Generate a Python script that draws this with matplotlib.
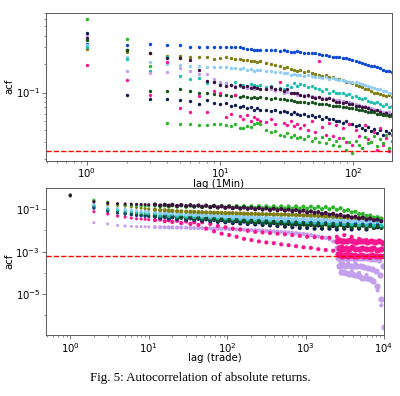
import matplotlib
matplotlib.use('Agg')
import matplotlib.pyplot as plt
from matplotlib.ticker import FixedLocator, LogFormatterSciNotation, NullFormatter

# ---- top panel: 1-minute returns, lags 1..194 ----
lags_min = [1, 2, 3, 4, 5, 6, 7, 8, 9, 10,
            11, 12, 13, 14, 15, 16, 17, 18, 19, 20,
            22, 24, 26, 28, 30, 32, 34, 36, 38, 40,
            43, 46, 49, 52, 55, 58, 62, 66, 70, 74,
            78, 83, 88, 93, 98, 104, 110, 116, 122, 129,
            136, 143, 151, 159, 167, 176, 185, 194]

min_blue = [0.33, 0.32, 0.33, 0.315, 0.315, 0.305, 0.30, 0.305, 0.30, 0.30,
            0.305, 0.30, 0.30, 0.30, 0.295, 0.29, 0.29, 0.285, 0.28, 0.285,
            0.28, 0.285, 0.28, 0.275, 0.28, 0.275, 0.27, 0.27, 0.275, 0.27,
            0.265, 0.265, 0.26, 0.26, 0.255, 0.25, 0.25, 0.245, 0.24, 0.24,
            0.235, 0.23, 0.23, 0.225, 0.22, 0.215, 0.21, 0.205, 0.20, 0.195,
            0.19, 0.19, 0.185, 0.18, 0.175, 0.17, 0.17, 0.165]
min_olive = [0.29, 0.27, 0.26, 0.245, 0.245, 0.235, 0.235, 0.235, 0.228, 0.23,
             0.235, 0.23, 0.225, 0.225, 0.22, 0.22, 0.215, 0.215, 0.21, 0.215,
             0.205, 0.20, 0.195, 0.19, 0.18, 0.185, 0.178, 0.175, 0.17, 0.172,
             0.165, 0.168, 0.16, 0.158, 0.155, 0.15, 0.152, 0.145, 0.147, 0.14,
             0.138, 0.135, 0.13, 0.128, 0.125, 0.12, 0.118, 0.115, 0.11, 0.108,
             0.105, 0.10, 0.10, 0.097, 0.095, 0.092, 0.095, 0.09]
min_lightblue = [0.32, 0.235, 0.21, 0.20, 0.195, 0.19, 0.19, 0.185, 0.185, 0.187,
                 0.185, 0.18, 0.182, 0.178, 0.18, 0.175, 0.178, 0.17, 0.175, 0.172,
                 0.17, 0.168, 0.165, 0.165, 0.16, 0.162, 0.155, 0.158, 0.152, 0.155,
                 0.15, 0.152, 0.148, 0.145, 0.147, 0.142, 0.145, 0.14, 0.142, 0.138,
                 0.137, 0.135, 0.133, 0.13, 0.13, 0.128, 0.125, 0.122, 0.12, 0.118,
                 0.115, 0.113, 0.11, 0.108, 0.105, 0.103, 0.10, 0.098]
min_teal = [0.30, 0.228, 0.17, 0.235, 0.15, 0.14, 0.142, 0.125, 0.13, 0.122,
            0.125, 0.12, 0.13, 0.118, 0.12, 0.115, 0.122, 0.12, 0.118, 0.12,
            0.115, 0.118, 0.11, 0.112, 0.108, 0.12, 0.115, 0.125, 0.118, 0.122,
            0.12, 0.115, 0.118, 0.112, 0.11, 0.105, 0.108, 0.10, 0.104, 0.10,
            0.098, 0.10, 0.095, 0.097, 0.09, 0.092, 0.088, 0.085, 0.088, 0.082,
            0.08, 0.078, 0.08, 0.075, 0.072, 0.075, 0.07, 0.072]
min_lavender = [0.41, 0.169, 0.162, 0.165, 0.183, 0.17, 0.159, 0.159, 0.14, 0.13,
                0.125, 0.12, 0.118, 0.12, 0.115, 0.112, 0.115, 0.11, 0.112, 0.11,
                0.108, 0.11, 0.105, 0.106, 0.10, 0.102, 0.098, 0.10, 0.095, 0.094,
                0.095, 0.092, 0.093, 0.09, 0.09, 0.088, 0.087, 0.088, 0.085, 0.084,
                0.083, 0.082, 0.08, 0.079, 0.077, 0.076, 0.074, 0.073, 0.072, 0.07,
                0.068, 0.067, 0.066, 0.065, 0.063, 0.062, 0.062, 0.06]
min_purple = [0.38, 0.282, 0.26, 0.23, 0.23, 0.22, 0.175, 0.133, 0.13, 0.12,
              0.118, 0.12, 0.115, 0.12, 0.115, 0.118, 0.112, 0.115, 0.113, 0.11,
              0.11, 0.115, 0.108, 0.11, 0.105, 0.108, 0.10, 0.098, 0.10, 0.095,
              0.093, 0.095, 0.09, 0.088, 0.09, 0.086, 0.085, 0.087, 0.083, 0.08,
              0.08, 0.078, 0.08, 0.076, 0.075, 0.073, 0.072, 0.07, 0.07, 0.068,
              0.066, 0.064, 0.065, 0.062, 0.06, 0.061, 0.058, 0.06]
min_darkgreen = [0.36, 0.28, 0.105, 0.105, 0.108, 0.104, 0.098, 0.10, 0.096, 0.094,
                 0.095, 0.092, 0.094, 0.09, 0.092, 0.09, 0.088, 0.09, 0.087, 0.09,
                 0.088, 0.086, 0.087, 0.085, 0.086, 0.083, 0.084, 0.082, 0.08, 0.08,
                 0.08, 0.078, 0.079, 0.077, 0.076, 0.075, 0.076, 0.074, 0.073, 0.072,
                 0.072, 0.07, 0.07, 0.069, 0.068, 0.067, 0.066, 0.065, 0.064, 0.063,
                 0.062, 0.062, 0.06, 0.06, 0.058, 0.058, 0.057, 0.056]
min_navy = [0.425, 0.095, 0.085, 0.086, 0.084, 0.081, 0.076, 0.083, 0.078, 0.075,
            0.078, 0.072, 0.074, 0.07, 0.072, 0.068, 0.07, 0.066, 0.068, 0.065,
            0.066, 0.064, 0.066, 0.062, 0.064, 0.062, 0.06, 0.063, 0.06, 0.058,
            0.06, 0.057, 0.058, 0.055, 0.056, 0.053, 0.055, 0.052, 0.053, 0.05,
            0.05, 0.048, 0.05, 0.046, 0.047, 0.044, 0.045, 0.042, 0.04, 0.043,
            0.039, 0.041, 0.037, 0.04, 0.036, 0.039, 0.037, 0.04]
min_pink = [0.197, 0.137, 0.094, 0.21, 0.069, 0.062, 0.093, 0.063, 0.104, 0.099,
            0.055, 0.06, 0.095, 0.057, 0.053, 0.058, 0.05, 0.055, 0.052, 0.05,
            0.049, 0.052, 0.047, 0.13, 0.048, 0.045, 0.05, 0.044, 0.047, 0.042,
            0.045, 0.04, 0.05, 0.038, 0.215, 0.043, 0.036, 0.048, 0.035, 0.045,
            0.033, 0.042, 0.03, 0.047, 0.028, 0.04, 0.035, 0.026, 0.045, 0.032,
            0.03, 0.038, 0.025, 0.042, 0.028, 0.033, 0.024, 0.036]
min_green = [0.60, 0.366, 0.19, 0.0475, 0.047, 0.047, 0.045, 0.045, 0.046, 0.046,
             0.045, 0.044, 0.047, 0.042, 0.042, 0.044, 0.043, 0.046, 0.048, 0.046,
             0.04, 0.038, 0.039, 0.036, 0.035, 0.037, 0.034, 0.036, 0.033, 0.034,
             0.032, 0.035, 0.031, 0.033, 0.03, 0.034, 0.029, 0.032, 0.028, 0.031,
             0.027, 0.033, 0.025, 0.03, 0.023, 0.031, 0.028, 0.026, 0.034, 0.029,
             0.03, 0.035, 0.027, 0.032, 0.029, 0.036, 0.026, 0.031]
conf_min = 0.0243

# ---- bottom panel: trade returns, lags 1..~10^4 ----
lags_trade = [1, 2, 3, 4, 5, 6, 7, 8, 9, 10,
              12, 14, 16, 18, 20, 23, 26, 30, 34, 38,
              43, 48, 54, 61, 68, 76, 85, 95, 106, 118,
              132, 147, 164, 183, 204, 228, 254, 283, 316, 352,
              393, 438, 489, 545, 608, 678, 756, 843, 940, 1048,
              1169, 1303, 1453, 1620, 1806, 2014, 2246, 2504, 2792, 3113,
              3471, 3870, 4315, 4811, 5365, 5982, 6670, 7437, 8292, 9246]

tr_green = [0.46, 0.26, 0.21, 0.17, 0.155, 0.15, 0.145, 0.145, 0.14, 0.14,
            0.15, 0.135, 0.148, 0.132, 0.15, 0.13, 0.148, 0.128, 0.146, 0.127,
            0.145, 0.125, 0.143, 0.122, 0.142, 0.12, 0.14, 0.118, 0.14, 0.117,
            0.138, 0.115, 0.138, 0.113, 0.136, 0.112, 0.136, 0.11, 0.135, 0.11,
            0.135, 0.108, 0.135, 0.107, 0.133, 0.106, 0.133, 0.105, 0.13, 0.105,
            0.13, 0.104, 0.128, 0.10, 0.125, 0.098, 0.12, 0.092, 0.11, 0.082,
            0.09, 0.07, 0.075, 0.058, 0.06, 0.048, 0.05, 0.04, 0.042, 0.034]
tr_purple = [0.44, 0.22, 0.19, 0.18, 0.175, 0.17, 0.168, 0.165, 0.163, 0.16,
             0.165, 0.148, 0.16, 0.145, 0.158, 0.14, 0.155, 0.138, 0.152, 0.135,
             0.148, 0.128, 0.145, 0.125, 0.14, 0.12, 0.135, 0.115, 0.13, 0.11,
             0.125, 0.105, 0.12, 0.102, 0.115, 0.098, 0.112, 0.095, 0.108, 0.09,
             0.104, 0.088, 0.10, 0.085, 0.095, 0.08, 0.09, 0.075, 0.085, 0.07,
             0.078, 0.066, 0.072, 0.06, 0.066, 0.055, 0.06, 0.05, 0.054, 0.045,
             0.048, 0.04, 0.044, 0.036, 0.04, 0.032, 0.036, 0.03, 0.032, 0.027]
tr_olive = [0.45, 0.23, 0.17, 0.15, 0.14, 0.13, 0.12, 0.112, 0.105, 0.10,
            0.095, 0.09, 0.088, 0.085, 0.082, 0.08, 0.078, 0.076, 0.075, 0.074,
            0.072, 0.071, 0.07, 0.069, 0.068, 0.067, 0.066, 0.065, 0.065, 0.064,
            0.063, 0.062, 0.061, 0.06, 0.06, 0.059, 0.058, 0.058, 0.057, 0.057,
            0.056, 0.056, 0.055, 0.055, 0.054, 0.054, 0.053, 0.052, 0.051, 0.05,
            0.05, 0.049, 0.048, 0.047, 0.046, 0.045, 0.044, 0.043, 0.042, 0.041,
            0.04, 0.04, 0.039, 0.039, 0.038, 0.038, 0.037, 0.037, 0.036, 0.036]
tr_lightblue = [0.44, 0.17, 0.13, 0.11, 0.10, 0.092, 0.086, 0.08, 0.078, 0.075,
                0.075, 0.066, 0.07, 0.062, 0.066, 0.058, 0.063, 0.055, 0.06, 0.053,
                0.058, 0.05, 0.055, 0.048, 0.053, 0.046, 0.05, 0.044, 0.048, 0.042,
                0.047, 0.04, 0.045, 0.039, 0.044, 0.038, 0.043, 0.036, 0.042, 0.035,
                0.041, 0.034, 0.04, 0.033, 0.039, 0.032, 0.038, 0.031, 0.037, 0.03,
                0.036, 0.03, 0.035, 0.029, 0.034, 0.028, 0.033, 0.027, 0.032, 0.026,
                0.031, 0.026, 0.03, 0.025, 0.03, 0.025, 0.029, 0.024, 0.029, 0.024]
tr_teal = [0.43, 0.15, 0.10, 0.09, 0.08, 0.075, 0.07, 0.066, 0.063, 0.06,
           0.064, 0.05, 0.062, 0.048, 0.06, 0.046, 0.058, 0.044, 0.056, 0.043,
           0.055, 0.041, 0.053, 0.04, 0.051, 0.038, 0.05, 0.036, 0.048, 0.035,
           0.046, 0.034, 0.045, 0.032, 0.044, 0.031, 0.042, 0.03, 0.041, 0.029,
           0.04, 0.028, 0.039, 0.027, 0.038, 0.026, 0.037, 0.025, 0.036, 0.024,
           0.035, 0.023, 0.034, 0.022, 0.033, 0.021, 0.032, 0.02, 0.031, 0.02,
           0.03, 0.019, 0.029, 0.018, 0.028, 0.018, 0.027, 0.017, 0.026, 0.017]
tr_darkgreen = [0.42, 0.14, 0.09, 0.075, 0.068, 0.062, 0.058, 0.055, 0.052, 0.05,
                0.05, 0.044, 0.048, 0.042, 0.046, 0.039, 0.043, 0.037, 0.041, 0.035,
                0.039, 0.033, 0.037, 0.031, 0.035, 0.029, 0.034, 0.028, 0.032, 0.027,
                0.031, 0.025, 0.03, 0.024, 0.028, 0.023, 0.027, 0.022, 0.026, 0.021,
                0.025, 0.02, 0.024, 0.019, 0.023, 0.018, 0.022, 0.017, 0.021, 0.017,
                0.02, 0.016, 0.02, 0.016, 0.019, 0.015, 0.019, 0.015, 0.018, 0.014,
                0.018, 0.014, 0.017, 0.014, 0.017, 0.013, 0.016, 0.013, 0.016, 0.013]
tr_blue = [0.43, 0.12, 0.085, 0.07, 0.062, 0.058, 0.054, 0.051, 0.049, 0.047,
           0.048, 0.041, 0.046, 0.039, 0.044, 0.037, 0.042, 0.035, 0.04, 0.034,
           0.038, 0.032, 0.036, 0.03, 0.034, 0.029, 0.033, 0.027, 0.032, 0.026,
           0.031, 0.025, 0.03, 0.024, 0.029, 0.023, 0.028, 0.022, 0.027, 0.021,
           0.026, 0.021, 0.025, 0.02, 0.025, 0.019, 0.024, 0.019, 0.023, 0.018,
           0.023, 0.018, 0.022, 0.017, 0.022, 0.017, 0.021, 0.016, 0.021, 0.016,
           0.02, 0.016, 0.02, 0.015, 0.019, 0.015, 0.019, 0.015, 0.018, 0.014]
tr_navy = [0.44, 0.11, 0.078, 0.065, 0.058, 0.054, 0.05, 0.048, 0.046, 0.045,
           0.045, 0.038, 0.043, 0.036, 0.041, 0.034, 0.039, 0.032, 0.037, 0.031,
           0.035, 0.028, 0.033, 0.027, 0.031, 0.025, 0.03, 0.024, 0.028, 0.022,
           0.027, 0.021, 0.026, 0.02, 0.025, 0.019, 0.024, 0.018, 0.023, 0.017,
           0.022, 0.016, 0.021, 0.015, 0.02, 0.014, 0.019, 0.013, 0.019, 0.013,
           0.018, 0.012, 0.017, 0.012, 0.035, 0.012, 0.016, 0.011, 0.03, 0.012,
           0.016, 0.011, 0.038, 0.012, 0.017, 0.011, 0.03, 0.013, 0.014, 0.015]
tr_pink = [0.42, 0.075, 0.058, 0.047, 0.042, 0.038, 0.035, 0.034, 0.033, 0.032,
           0.03, 0.032, 0.027, 0.03, 0.025, 0.028, 0.022, 0.026, 0.02, 0.024,
           0.018, 0.024, 0.012, 0.02, 0.009, 0.016, 0.007, 0.014, 0.006, 0.012,
           0.005, 0.011, 0.004, 0.0095, 0.0035, 0.0085, 0.003, 0.008, 0.0027, 0.0075,
           0.0025, 0.007, 0.0022, 0.0065, 0.002, 0.006, 0.0018, 0.0055, 0.0016, 0.005,
           0.0015, 0.0048, 0.0013, 0.0045, 0.0012, 0.0045, 0.0011, 0.005, 0.0009, 0.006,
           0.0009, 0.005, 0.0007, 0.004, 0.0006, 0.0035, 0.0005, 0.003, 0.0006, 0.0028]
tr_lavender = [0.48, 0.023, 0.02, 0.017, 0.016, 0.0155, 0.015, 0.015, 0.0148, 0.0145,
               0.0143, 0.014, 0.014, 0.0138, 0.0138, 0.0135, 0.0135, 0.0133, 0.013, 0.013,
               0.0128, 0.0128, 0.0125, 0.0125, 0.0122, 0.012, 0.012, 0.0118, 0.0115, 0.0115,
               0.0112, 0.011, 0.0108, 0.0106, 0.0104, 0.0102, 0.01, 0.0098, 0.0095, 0.0093,
               0.009, 0.0088, 0.0085, 0.0082, 0.008, 0.0077, 0.0074, 0.007, 0.0067, 0.0064,
               0.006, 0.0056, 0.0052, 0.0048, 0.0044, 0.0038, 0.003, 0.0015, 0.0003, 0.00025,
               0.00035, 0.00012, 0.0003, 0.0001, 0.0002, 8e-05, 0.00015, 4e-05, 1.5e-05, 3e-06]

# extra readings in the dense tail (lag > 2500) of the two lowest series
tail_lags = [2550, 2600, 2650, 2700, 2760, 2820, 2880, 2950, 3020, 3100, 3180,
             3270, 3360, 3460, 3560, 3670, 3780, 3900, 4020, 4150, 4290, 4430,
             4580, 4740, 4900, 5070, 5250, 5440, 5640, 5850, 6070, 6300, 6540,
             6790, 7050, 7330, 7620, 7920, 8240, 8570, 8920, 9280, 9650, 9950]
tail_lav = [1.5e-3, 5e-4, 2e-4, 5e-4, 2.2e-4, 1.1e-4, 5e-4, 2.5e-4, 1.1e-4, 5e-4, 2.2e-4,
            1e-4, 5e-4, 2.3e-4, 9e-5, 5e-4, 2e-4, 9e-5, 5e-4, 2.2e-4, 8e-5, 5e-4,
            2e-4, 7e-5, 5e-4, 2e-4, 6e-5, 5e-4, 1.8e-4, 5.5e-5, 5e-4, 1.7e-4, 5e-5,
            4.5e-4, 1.5e-4, 4e-5, 4.5e-4, 1.2e-4, 2.5e-5, 4e-4, 8e-5, 6e-6, 2e-4, 3e-7]
tail_pink = [0.003, 0.0008, 0.0015, 0.0035, 0.0007, 0.0016, 0.003, 0.0006, 0.0014, 0.0032, 0.0007,
             0.0015, 0.003, 0.0006, 0.0013, 0.0035, 0.0007, 0.0016, 0.003, 0.0006, 0.0014, 0.0028,
             0.0006, 0.0013, 0.003, 0.0007, 0.0015, 0.0032, 0.0006, 0.0013, 0.0028, 0.0006, 0.0014,
             0.003, 0.0007, 0.0015, 0.0027, 0.0006, 0.0012, 0.003, 0.0006, 0.0013, 0.0025, 0.0006]
conf_trade = 6e-4

col = {'blue': '#0a47d9', 'olive': '#7d7d12', 'lightblue': '#8fcdf7',
       'teal': '#1fbfb0', 'lavender': '#c4a0ec', 'purple': '#3d0f3f',
       'darkgreen': '#154f1c', 'navy': '#0e1b4f', 'pink': '#f7168f',
       'green': '#2db52a'}

top_series = [('blue', min_blue), ('olive', min_olive), ('lightblue', min_lightblue),
              ('teal', min_teal), ('lavender', min_lavender), ('purple', min_purple),
              ('darkgreen', min_darkgreen), ('navy', min_navy), ('pink', min_pink),
              ('green', min_green)]
bot_series = [('lavender', tr_lavender), ('pink', tr_pink), ('navy', tr_navy),
              ('blue', tr_blue), ('darkgreen', tr_darkgreen), ('teal', tr_teal),
              ('lightblue', tr_lightblue), ('olive', tr_olive), ('green', tr_green),
              ('purple', tr_purple)]

fs = 7.3
plt.rcParams['font.size'] = fs
plt.rcParams['axes.linewidth'] = 0.7
plt.rcParams['axes.edgecolor'] = '0.35'
for a in ('x', 'y'):
    plt.rcParams[a + 'tick.major.size'] = 2.6
    plt.rcParams[a + 'tick.minor.size'] = 1.5
    plt.rcParams[a + 'tick.major.width'] = 0.6
    plt.rcParams[a + 'tick.minor.width'] = 0.5
    plt.rcParams[a + 'tick.major.pad'] = 1.5
    plt.rcParams[a + 'tick.color'] = '0.35'
    plt.rcParams[a + 'tick.labelcolor'] = 'black'

fig = plt.figure(figsize=(4.0, 3.96), dpi=100)

ax1 = fig.add_axes([0.115, 0.594, 0.865, 0.374])
for name, vals in top_series:
    ax1.scatter(lags_min, vals, s=6, color=col[name], linewidths=0)
ax1.axhline(conf_min, color='red', ls='--', lw=1.0, zorder=3)
ax1.set_xscale('log')
ax1.set_yscale('log')
ax1.set_xlim(0.495, 195)
ax1.set_ylim(0.019, 0.70)
ax1.set_xlabel('lag (1Min)', labelpad=-1)
ax1.set_ylabel('acf', labelpad=1)

ax2 = fig.add_axes([0.115, 0.154, 0.845, 0.371])
ax2.patch.set_alpha(0)
sizes = [5 if l <= 10 else 9 for l in lags_trade]
ax2.scatter(tail_lags, tail_lav, s=20, color=col['lavender'], linewidths=0)
for name, vals in bot_series:
    ax2.scatter(lags_trade, vals, s=sizes, color=col[name], linewidths=0)
    if name == 'pink':
        ax2.scatter(tail_lags, tail_pink, s=20, color=col['pink'], linewidths=0)
ax2.axhline(conf_trade, color='red', ls='--', lw=1.0, zorder=3)
ax2.set_xscale('log')
ax2.set_yscale('log')
ax2.set_xlim(0.49, 1e4)
ax2.set_ylim(1.2e-7, 0.97)
ax2.yaxis.set_major_locator(FixedLocator([1e-7, 1e-5, 1e-3, 1e-1]))
ax2.yaxis.set_major_formatter(LogFormatterSciNotation())
ax2.yaxis.set_minor_locator(FixedLocator([1e-6, 1e-4, 1e-2]))
ax2.yaxis.set_minor_formatter(NullFormatter())
ax2.set_xlabel('lag (trade)', labelpad=-1)
ax2.set_ylabel('acf', labelpad=1)

fig.text(0.5, 0.046, 'Fig. 5: Autocorrelation of absolute returns.',
         ha='center', va='center', family='Liberation Serif', fontsize=9.4)

fig.savefig('out.png', dpi=100)
